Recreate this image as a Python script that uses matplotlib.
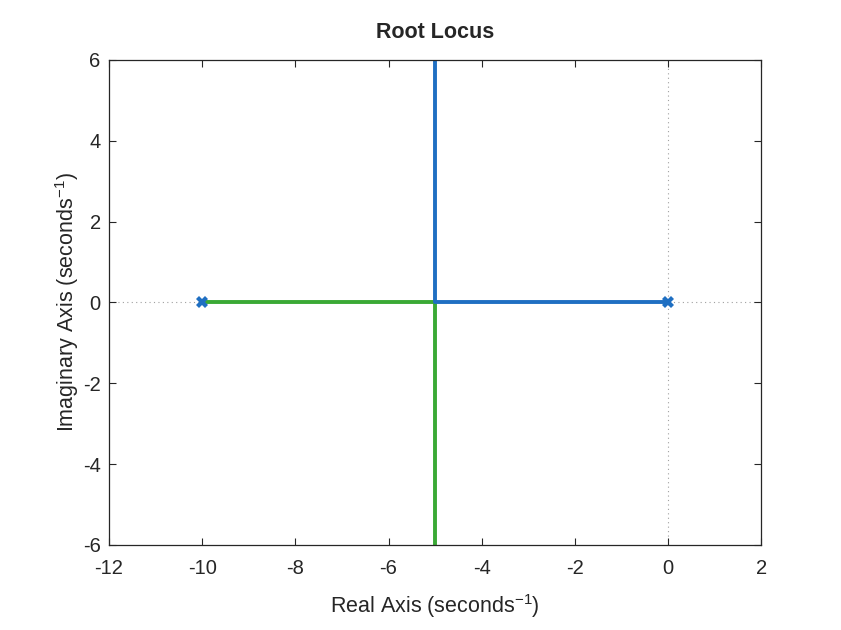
import matplotlib
matplotlib.use("Agg")
from matplotlib import pyplot as plt

# 数据：开环极点与两条根轨迹分支
poles_re = [0, -10]
poles_im = [0, 0]
blue_re = [0, -5, -5]
blue_im = [0, 0, 100]
green_re = [-10, -5, -5]
green_im = [0, 0, -100]

x_ticks = [-12, -10, -8, -6, -4, -2, 0, 2]
y_ticks = [-6, -4, -2, 0, 2, 4, 6]

blue = "#1f6fc2"
green = "#3aa935"

plt.rcParams['font.family'] = ['Liberation Sans', 'DejaVu Sans']
plt.rcParams['mathtext.fontset'] = 'custom'
plt.rcParams['mathtext.rm'] = 'Liberation Sans'
plt.rcParams['mathtext.it'] = 'Liberation Sans'
plt.rcParams['axes.unicode_minus'] = False

fig = plt.figure(figsize=(8.41, 6.30), dpi=100)
ax = fig.add_axes([0.1296, 0.135, 0.7755, 0.77])

# 虚线参考线
ax.axhline(0, color="#a0a0a0", linestyle=(0, (1, 3)), linewidth=0.8, zorder=1)
ax.axvline(0, color="#a0a0a0", linestyle=(0, (1, 3)), linewidth=0.8, zorder=1)

ax.plot(green_re, green_im, color=green, linewidth=2.8, zorder=2)
ax.plot(blue_re, blue_im, color=blue, linewidth=2.8, zorder=2)
ax.plot(poles_re, poles_im, linestyle="none", marker="X", markersize=9,
        color=blue, markeredgewidth=0, zorder=3)

ax.set_xlim(-12, 2)
ax.set_ylim(-6, 6)
ax.set_xticks(x_ticks)
ax.set_yticks(y_ticks)
ax.tick_params(direction="in", top=True, right=True, labelsize=14.5,
               length=5, width=0.8, colors="#262626")
ax.tick_params(axis="x", pad=10)
ax.tick_params(axis="y", pad=6)
for s in ax.spines.values():
    s.set_linewidth(0.9)
    s.set_color("#262626")

ax.set_xlabel("Real Axis (seconds$^{-1}$)", fontsize=15.5, color="#262626", labelpad=10)
ax.set_ylabel("Imaginary Axis (seconds$^{-1}$)", fontsize=15.5, color="#262626", labelpad=1)
ax.set_title("Root Locus", fontsize=15.5, fontweight="bold", color="#262626", pad=16)

fig.savefig("out.png", dpi=100)
